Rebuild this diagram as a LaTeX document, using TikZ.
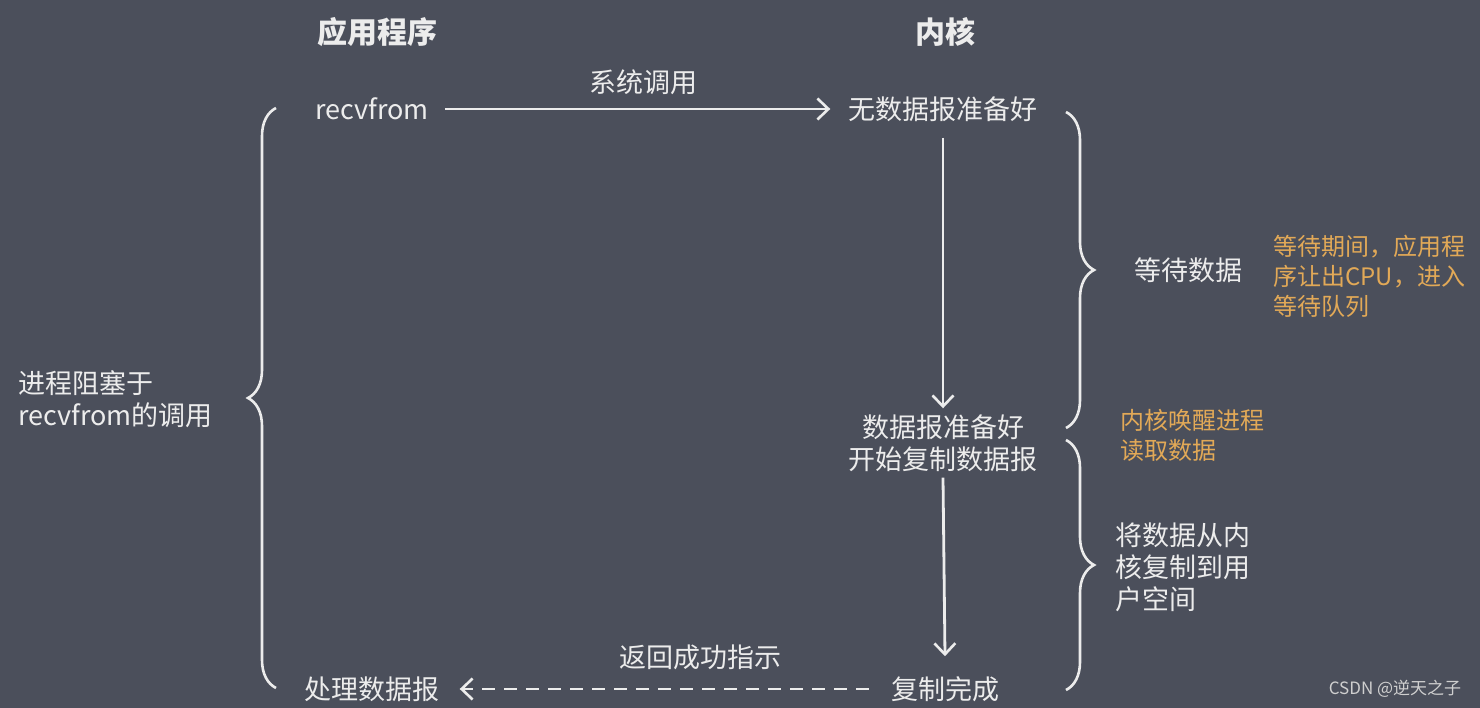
\documentclass[tikz,border=0pt]{standalone}
\usepackage{fontspec}
\setmainfont{Noto Sans CJK SC}
\usetikzlibrary{arrows.meta,decorations.pathreplacing}
\definecolor{bg}{HTML}{4B4F5B}
\definecolor{fg}{HTML}{ECECEC}
\definecolor{org}{HTML}{E2A957}
\definecolor{wm}{HTML}{CFCFCF}
\begin{document}
\begin{tikzpicture}[x=1pt,y=-1pt,
  txt/.style={text=fg,font=\fontsize{27}{32}\selectfont,inner sep=0pt,align=center},
  ttl/.style={text=fg,font=\fontsize{30}{36}\selectfont\bfseries,inner sep=0pt},
  note/.style={text=org,font=\fontsize{24}{30}\selectfont,inner sep=0pt,align=left},
  ln/.style={draw=fg,line width=2.8pt},
  arr/.style={ln,-{Straight Barb[length=11pt,width=21pt,line width=2.6pt]}},
  brc/.style={draw=fg,line width=2.6pt,decorate,decoration={brace,amplitude=28pt,aspect=0.5}}]
\useasboundingbox (0,0) rectangle (1480,708);
\fill[bg] (0,0) rectangle (1480,708);

% titles
\node[ttl] (app) at (377,32) {应用程序};
\node[ttl] (ker) at (945,32) {内核};

% nodes
\node[txt] (recv) at (372,109) {recvfrom};
\node[txt] (nodata) at (943,109) {无数据报准备好};
\node[txt] (ready) at (943,443) {数据报准备好\\开始复制数据报};
\node[txt] (done) at (945,689) {复制完成};
\node[txt] (proc) at (372,689) {处理数据报};

% arrows
\draw[arr] ([xshift=16pt]recv.east) -- ([xshift=-18pt]nodata.west);
\node[txt] (syscall) at (643,82) {系统调用};
\draw[arr] ([yshift=-16pt]nodata.south) -- ([yshift=6pt]ready.north);
\draw[arr] ([yshift=-6pt]ready.south) -- ([yshift=20pt]done.north);
\draw[arr,dash pattern=on 13pt off 9pt] ([xshift=-22pt]done.west) -- ([xshift=20pt]proc.east);
\node[txt] (ret) at (700,657) {返回成功指示};

% braces
\coordinate (lb1) at (276,688);
\coordinate (lb2) at (276,108);
\draw[brc] (lb1) -- (lb2);
\node[txt,align=left,anchor=west] (block) at (18,399) {进程阻塞于\\recvfrom的调用};

\coordinate (rb1) at (1066,112);
\coordinate (rb2) at (1066,428);
\draw[brc] (rb1) -- (rb2);
\node[txt] (wait) at (1188,270) {等待数据};
\node[note,anchor=west] (waitnote) at (1273,276) {等待期间，应用程\\序让出CPU，进入\\等待队列};
\node[note,anchor=west] (wake) at (1120,435) {内核唤醒进程\\读取数据};

\coordinate (rc1) at (1066,440);
\coordinate (rc2) at (1066,690);
\draw[brc] (rc1) -- (rc2);
\node[txt,align=left,anchor=west] (copy) at (1115,567) {将数据从内\\核复制到用\\户空间};

% watermark
\node[text=wm,font=\fontsize{17}{20}\selectfont,inner sep=0pt] (mark) at (1395,689) {CSDN @逆天之子};
\end{tikzpicture}
\end{document}
